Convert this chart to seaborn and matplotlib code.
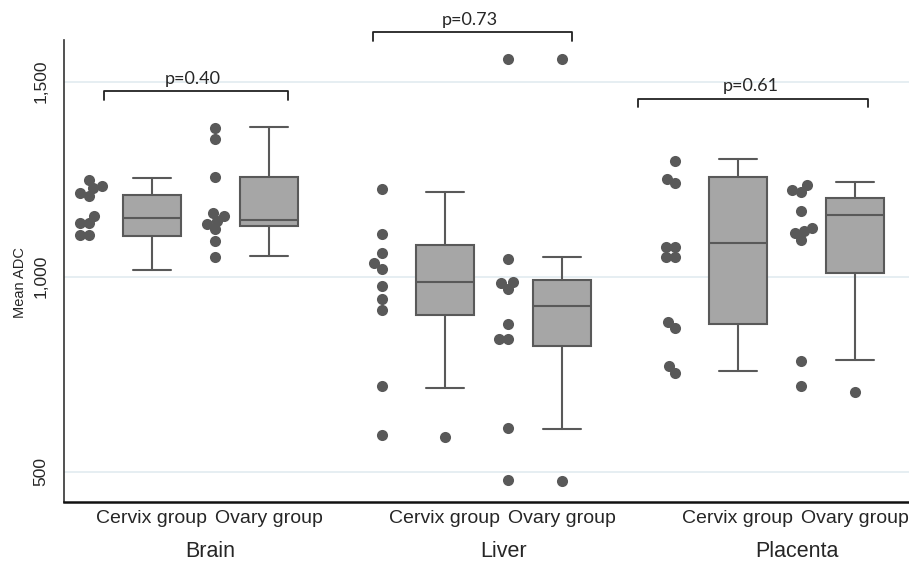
import matplotlib
matplotlib.use('Agg')
import matplotlib.pyplot as plt
import seaborn as sns
import pandas as pd

# categories
tissues = ['Brain', 'Liver', 'Placenta']
groups = ['Cervix group', 'Ovary group']
p_values = ['p=0.40', 'p=0.73', 'p=0.61']

# individual mean ADC values (dots)
brain_cervix = [1248, 1232, 1227, 1215, 1207, 1156, 1137, 1137, 1107, 1107]
brain_ovary = [1382, 1352, 1256, 1164, 1156, 1144, 1135, 1122, 1092, 1051]
liver_cervix = [1224, 1109, 1062, 1034, 1021, 976, 942, 915, 720, 594]
liver_ovary = [1558, 1046, 987, 983, 968, 879, 839, 839, 611, 479]
placenta_cervix = [1297, 1250, 1240, 1077, 1077, 1051, 1051, 885, 869, 771, 754]
placenta_ovary = [1235, 1222, 1218, 1169, 1124, 1118, 1111, 1094, 784, 720]

# box statistics, order: Brain-Cervix, Brain-Ovary, Liver-Cervix, Liver-Ovary, Placenta-Cervix, Placenta-Ovary
box_whislo = [1017, 1053, 714, 609, 759, 787]
box_q1 = [1104, 1131, 903, 822, 879, 1010]
box_med = [1151, 1145, 987, 925, 1086, 1157]
box_q3 = [1209, 1256, 1081, 991, 1255, 1203]
box_whishi = [1254, 1385, 1218, 1051, 1302, 1244]
box_fliers = [[], [], [590], [1558, 477], [], [704]]

yticks = [500, 1000, 1500]
ytick_labels = ['500', '1,000', '1,500']

# layout (x in axis units, one panel = 10)
PANEL = 10.0
dot_offset = {'Cervix group': 0.85, 'Ovary group': 5.15}
box_offset = {'Cervix group': 3.0, 'Ovary group': 7.0}
bracket_span = [(1.35, 7.65), (10.55, 17.35), (19.6, 27.45)]
bracket_level = [1476, 1627, 1457]

dot_color = '#595959'
edge_color = '#595959'
fill_color = '#a6a6a6'

values = {
    ('Brain', 'Cervix group'): brain_cervix,
    ('Brain', 'Ovary group'): brain_ovary,
    ('Liver', 'Cervix group'): liver_cervix,
    ('Liver', 'Ovary group'): liver_ovary,
    ('Placenta', 'Cervix group'): placenta_cervix,
    ('Placenta', 'Ovary group'): placenta_ovary,
}
rows = []
for (t, g), vals in values.items():
    for v in vals:
        rows.append({'tissue': t, 'group': g, 'value': v,
                     'pos': tissues.index(t) * PANEL + dot_offset[g]})
df = pd.DataFrame(rows)

sns.set_style('white')
plt.rcParams['font.family'] = ['Liberation Sans', 'DejaVu Sans']

fig = plt.figure(figsize=(9.09, 5.62), dpi=100)
ax = fig.add_axes([0.0704, 0.1073, 0.9296, 0.8215])

for y in yticks:
    ax.axhline(y, color='#e2ebf0', lw=1.2, zorder=0)

# swarm laid out with a smaller dot, so the columns stay tight like a dotplot
n_before = len(ax.collections)
sns.swarmplot(data=df, x='pos', y='value', orient='x', native_scale=True,
              color=dot_color, size=6.3, linewidth=0, ax=ax, zorder=3)
swarm_colls = ax.collections[n_before:]

stats = []
box_pos = []
labels = []
i = 0
for ti, t in enumerate(tissues):
    for g in groups:
        stats.append(dict(whislo=box_whislo[i], q1=box_q1[i], med=box_med[i],
                          q3=box_q3[i], whishi=box_whishi[i], fliers=box_fliers[i]))
        box_pos.append(ti * PANEL + box_offset[g])
        labels.append(g)
        i += 1

ax.bxp(stats, positions=box_pos, widths=2.0, capwidths=1.3, patch_artist=True,
       manage_ticks=False,
       boxprops=dict(facecolor=fill_color, edgecolor=edge_color, lw=1.5),
       medianprops=dict(color=edge_color, lw=1.5),
       whiskerprops=dict(color=edge_color, lw=1.5),
       capprops=dict(color=edge_color, lw=1.5),
       flierprops=dict(marker='o', markersize=8, markerfacecolor=dot_color,
                       markeredgecolor='none'))

ax.set_xlim(0, 28.84)
ax.set_ylim(423, 1607)
ax.set_xticks(box_pos, labels, fontsize=14)
ax.tick_params(axis='x', length=0, pad=6)
ax.set_yticks(yticks, ytick_labels, fontsize=12.5)
ax.tick_params(axis='y', length=6, width=1, color='#333333', pad=5)
for lab in ax.get_yticklabels():
    lab.set_rotation(90)
    lab.set_va('center')
ax.set_xlabel('')
ax.set_ylabel('Mean ADC', fontsize=10.5)
ax.yaxis.set_label_coords(-0.044, 0.474)

for ti, t in enumerate(tissues):
    ax.text(ti * PANEL + 5, -0.107, t, transform=ax.get_xaxis_transform(),
            ha='center', va='center', fontsize=15.5)

for (x0, x1), y, p in zip(bracket_span, bracket_level, p_values):
    ax.plot([x0, x0, x1, x1], [y - 22, y, y, y - 22], color='#222222', lw=1.3,
            clip_on=False)
    ax.text((x0 + x1) / 2 - 0.1, y + 32, p, ha='center', va='center',
            fontsize=13, family=['Lato', 'DejaVu Sans'])

sns.despine(ax=ax, top=True, right=True)
ax.spines['left'].set_color('#333333')
ax.spines['left'].set_linewidth(1.2)
ax.spines['bottom'].set_color('#111111')
ax.spines['bottom'].set_linewidth(1.8)

# fix the swarm positions, then grow the dots to their real size
fig.canvas.draw()
for coll in swarm_colls:
    if 'draw' in coll.__dict__:
        del coll.draw
    coll.set_sizes([8.0 ** 2])

fig.savefig('out.png', dpi=100)
